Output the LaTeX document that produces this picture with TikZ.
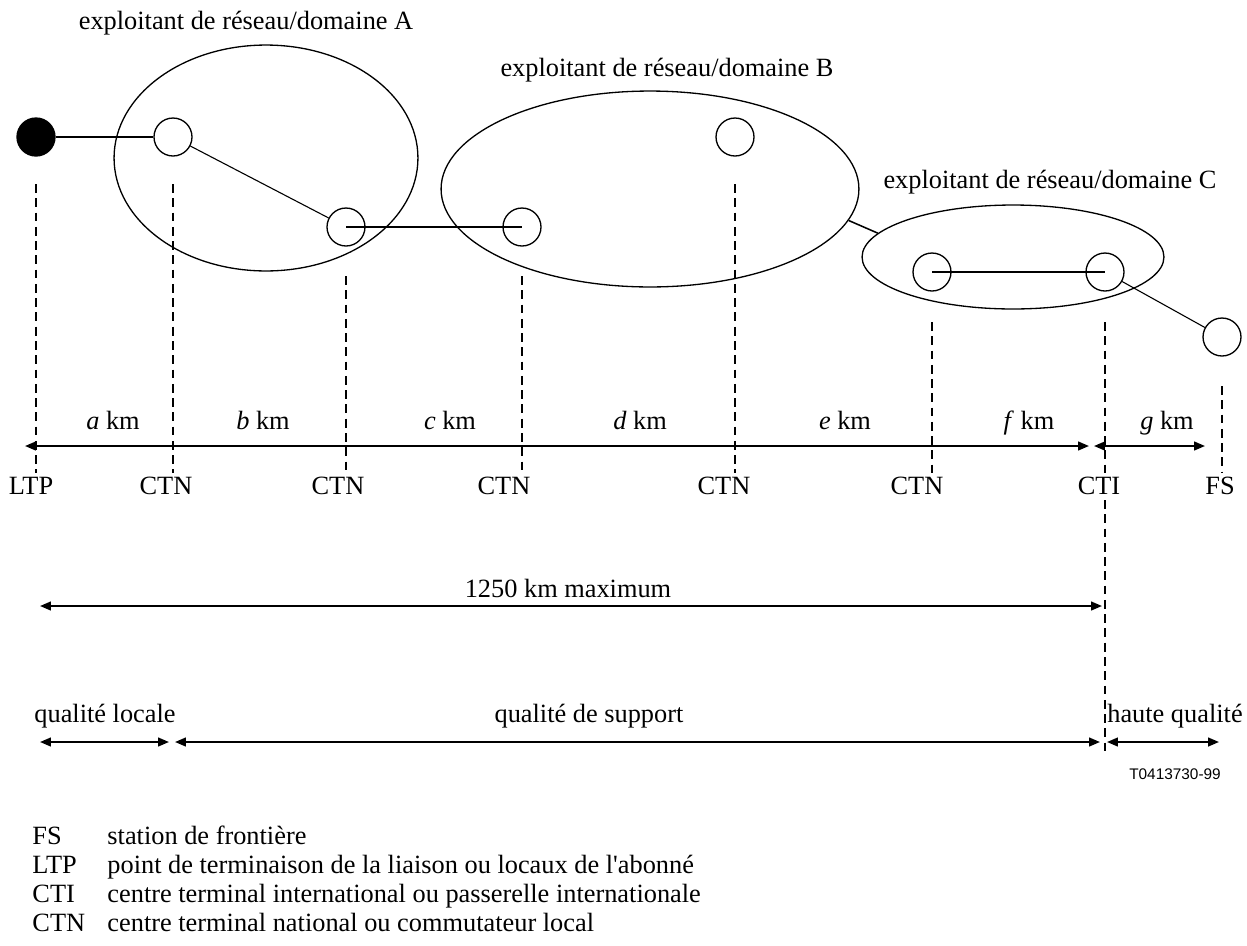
\documentclass[tikz,border=0pt]{standalone}
\usepackage{fontspec}
\setmainfont{Liberation Serif}
\setsansfont{Liberation Sans}
\usepackage{tikz}
\usetikzlibrary{
    shapes.geometric,
    arrows.meta
}
\tikzstyle{netzone} = [
    ellipse, draw,
    line width=0.6pt,
    inner sep=0pt
]
\tikzstyle{switchnode} = [
    circle, draw,
    line width=0.6pt,
    minimum size=0.608cm,
    inner sep=0pt
]
\tikzstyle{link} = [
    line width=0.5pt
]
\tikzstyle{trunk} = [
    line width=1pt
]
\tikzstyle{guide} = [
    line width=0.9pt,
    dash pattern=on 4pt off 2.5pt
]
\tikzstyle{distarrow} = [
    line width=0.9pt,
    <->,
    >={Triangle[length=5pt,width=4pt]}
]

\begin{document}
\begin{tikzpicture}[
	x=0.016cm, y=-0.016cm,
	every node/.style={font=\fontsize{12}{14}\selectfont, inner sep=0pt,
	    text height=8.5pt, text depth=2.5pt}
]
\useasboundingbox (0,0) rectangle (1247,945);

% domaines
\node (domA) [netzone, minimum width=4.864cm, minimum height=3.616cm] at (266,158) {};
\node (domB) [netzone, minimum width=6.688cm, minimum height=3.136cm] at (650,189) {};
\node (domC) [netzone, minimum width=4.832cm, minimum height=1.664cm] at (1013,257) {};

\node (titleA) at (246,23) {exploitant de réseau/domaine A};
\node (titleB) at (667,70) {exploitant de réseau/domaine B};
\node (titleC) at (1050,182) {exploitant de réseau/domaine C};

% centres
\node (ltp) [switchnode, fill=black] at (36,137) {};
\node (ctnA1) [switchnode] at (173,137) {};
\node (ctnA2) [switchnode] at (346,227) {};
\node (ctnB1) [switchnode] at (522,227) {};
\node (ctnB2) [switchnode] at (735,137) {};
\node (ctnC1) [switchnode] at (932,272) {};
\node (cti) [switchnode] at (1105,272) {};
\node (fs) [switchnode] at (1222,337) {};

\draw [link] (ltp) -- (ctnA1);
\draw [link] (ctnA1) -- (ctnA2);
\draw [trunk] (ctnA2.center) -- (ctnB1.center);
\draw [link, line width=0.7pt] (domB.-9) -- (domC.170);
\draw [trunk] (ctnC1.center) -- (cti.center);
\draw [link] (cti) -- (fs);

% lignes de repere
\foreach \x/\top in {36/184, 173/184, 346/276, 522/276, 735/184, 932/322, 1105/322, 1222/386}
    \draw [guide] (\x,\top) -- (\x,473);
\draw [guide] (1105,500) -- (1105,752);

% distances
\draw [distarrow] (25,446) -- (1089,446);
\draw [distarrow] (1094,446) -- (1205,446);
\node (kmA) at (113,423) {\textit{a} km};
\node (kmB) at (263,423) {\textit{b} km};
\node (kmC) at (450,423) {\textit{c} km};
\node (kmD) at (640,423) {\textit{d} km};
\node (kmE) at (845,423) {\textit{e} km};
\node (kmF) at (1029,423) {\textit{f} km};
\node (kmG) at (1167,423) {\textit{g} km};

\node (lLTP) at (31,488) {LTP};
\node (lCTN1) at (166,488) {CTN};
\node (lCTN2) at (338,488) {CTN};
\node (lCTN3) at (504,488) {CTN};
\node (lCTN4) at (724,488) {CTN};
\node (lCTN5) at (917,488) {CTN};
\node (lCTI) at (1099,488) {CTI};
\node (lFS) at (1220,488) {FS};

\draw [distarrow] (40,606) -- (1102,606);
\node (maxi) at (568,591) {1250 km maximum};

% qualites
\draw [distarrow] (40,742) -- (169,742);
\draw [distarrow] (175,742) -- (1100,742);
\draw [distarrow] (1107,742) -- (1219,742);
\node (qLoc) at (105,716) {qualité locale};
\node (qSup) at (589,716) {qualité de support};
\node (qHaut) at (1175,716) {haute qualité};

\node (ref) at (1175,773) {\sffamily\fontsize{7}{8}\selectfont T0413730-99};

% legende
\foreach \abbr/\desc [count=\i] in {FS/station de frontière,
    LTP/point de terminaison de la liaison ou locaux de l\textquotesingle abonné,
    CTI/centre terminal international ou passerelle internationale,
    CTN/centre terminal national ou commutateur local}
{
    \node (abbr\i) [anchor=west] at (32,809+29*\i) {\abbr};
    \node (desc\i) [anchor=west] at (107,809+29*\i) {\desc};
}

\end{tikzpicture}
\end{document}
